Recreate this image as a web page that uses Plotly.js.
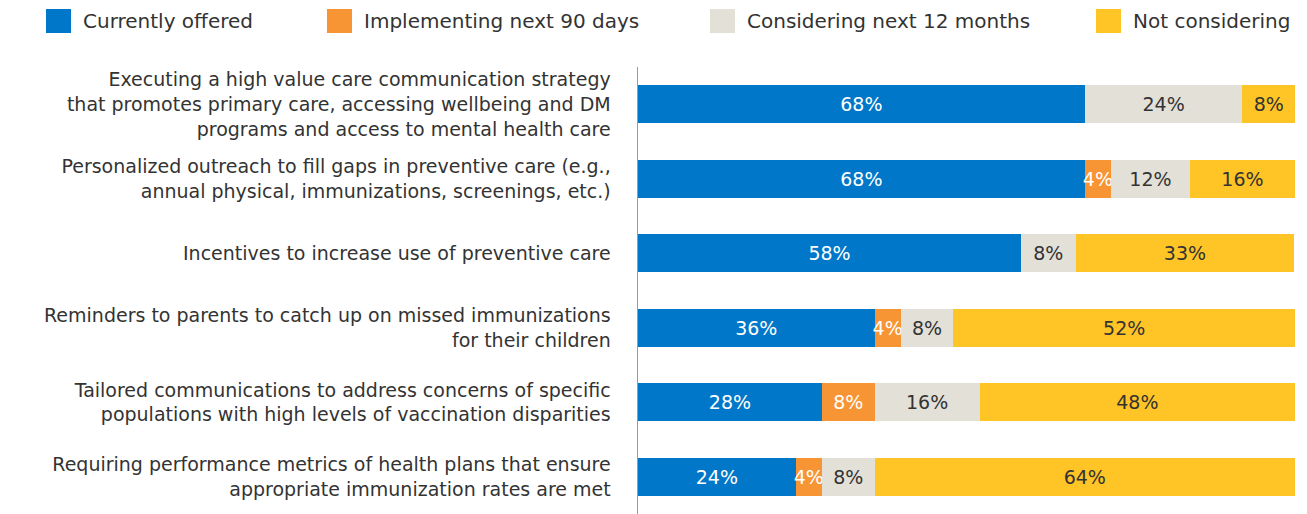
<!DOCTYPE html>
<html>
<head>
<meta charset="utf-8">
<script src="https://cdn.plot.ly/plotly-3.0.1.min.js"></script>
<style>
  html, body { margin: 0; padding: 0; background: #fff; }
  #chart { width: 1307px; height: 514px; }
</style>
</head>
<body>
<div id="chart"></div>
<script>
// Survey items, top to bottom
const categories = [
  "Executing a high value care communication strategy<br>that promotes primary care, accessing wellbeing and DM<br>programs and access to mental health care",
  "Personalized outreach to fill gaps in preventive care (e.g.,<br>annual physical, immunizations, screenings, etc.)",
  "Incentives to increase use of preventive care",
  "Reminders to parents to catch up on missed immunizations<br>for their children",
  "Tailored communications to address concerns of specific<br>populations with high levels of vaccination disparities",
  "Requiring performance metrics of health plans that ensure<br>appropriate immunization rates are met"
]

const currentlyOffered = [68, 68, 58.3, 36, 28, 24]
const implementing90 = [null, 4, null, 4, 8, 4]
const considering12 = [24, 12, 8.3, 8, 16, 8]
const notConsidering = [8, 16, 33.3, 52, 48, 64]

const seriesNames = ["Currently offered", "Implementing next 90 days", "Considering next 12 months", "Not considering"]
const seriesColors = ["#0077C8", "#F79535", "#E3E0D8", "#FFC425"]
const labelColors = ["#ffffff", "#ffffff", "#333333", "#333333"]

const W = 1307, H = 514
const margin = { l: 638, r: 12, t: 67, b: 0 }
const font = "'DejaVu Sans', sans-serif"

const traces = [currentlyOffered, implementing90, considering12, notConsidering].map((vals, i) => ({
  type: "bar",
  orientation: "h",
  name: seriesNames[i],
  x: vals,
  y: categories,
  width: 0.51,
  marker: { color: seriesColors[i], line: { width: 0 } },
  texttemplate: "%{x:.0f}%",
  textposition: "inside",
  insidetextanchor: "middle",
  textangle: 0,
  textfont: { family: font, size: 19, color: labelColors[i] },
  hoverinfo: "skip",
  showlegend: false,
}))

// pixel -> paper helpers for the legend row above the plot
const plotW = W - margin.l - margin.r
const plotH = H - margin.t - margin.b
const px = (v) => (v - margin.l) / plotW
const py = (v) => (H - margin.b - v) / plotH

const legendX = [46, 327, 710, 1096]
const shapes = []
const annotations = []
seriesNames.forEach((name, i) => {
  shapes.push({
    type: "rect", xref: "paper", yref: "paper",
    x0: px(legendX[i]), x1: px(legendX[i] + 25),
    y0: py(33), y1: py(9),
    fillcolor: seriesColors[i], line: { width: 0 },
  })
  annotations.push({
    xref: "paper", yref: "paper",
    x: px(legendX[i] + 35), y: py(21),
    xanchor: "left", yanchor: "middle",
    text: name, showarrow: false,
    font: { family: font, size: 20, color: "#333333" },
  })
})

const layout = {
  width: W,
  height: H,
  margin: margin,
  barmode: "stack",
  paper_bgcolor: "#ffffff",
  plot_bgcolor: "#ffffff",
  font: { family: font, size: 19, color: "#333333" },
  xaxis: {
    range: [0, 100],
    visible: false,
    fixedrange: true,
  },
  yaxis: {
    autorange: "reversed",
    showline: true,
    linecolor: "#9a9a9a",
    linewidth: 1.5,
    showgrid: false,
    zeroline: false,
    ticks: "",
    ticklabelstandoff: 22,
    tickfont: { family: font, size: 19, color: "#333333" },
    fixedrange: true,
  },
  uniformtext: { minsize: 19, mode: "show" },
  shapes: shapes,
  annotations: annotations,
}

Plotly.newPlot("chart", traces, layout, { displayModeBar: false, staticPlot: true })
</script>
</body>
</html>
